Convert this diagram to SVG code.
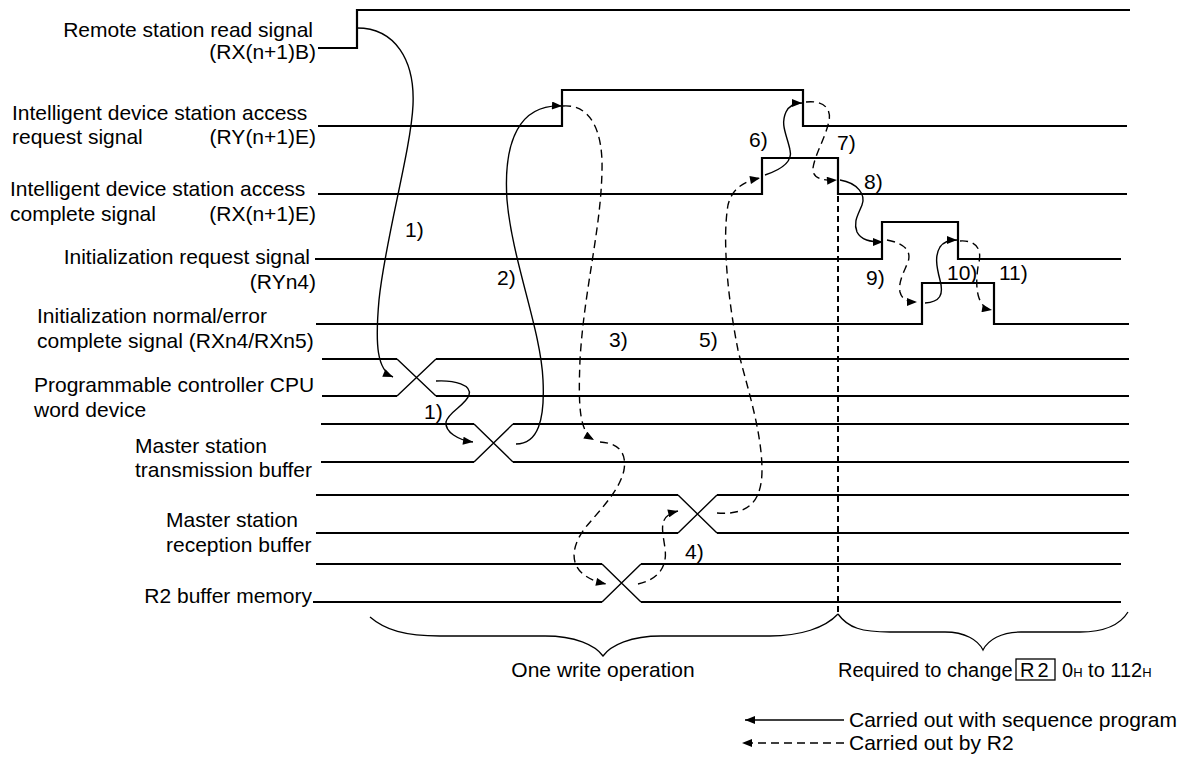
<svg xmlns="http://www.w3.org/2000/svg" width="1189" height="758" viewBox="0 0 1189 758">
<style>
text{font-family:"Liberation Sans",Arial,sans-serif;font-size:21px;fill:#000}
text.s20{font-size:20px}
.sig{fill:none;stroke:#000;stroke-width:2.2}
.diag{fill:none;stroke:#000;stroke-width:1.4}
.c{fill:none;stroke:#000;stroke-width:1.4}
.d{fill:none;stroke:#000;stroke-width:1.4;stroke-dasharray:8,5}
.brace{fill:none;stroke:#000;stroke-width:1.3}
.end{text-anchor:end}
</style>
<defs>
<marker id="ah" viewBox="0 0 10 8" refX="10" refY="4" markerWidth="11" markerHeight="8" markerUnits="userSpaceOnUse" orient="auto">
<path d="M0,0 L10,4 L0,8 z" fill="#000" stroke="none"/>
</marker>
</defs>
<rect width="1189" height="758" fill="#fff"/>

<g id="sig-remote-read">
<text class="end" x="313" y="37">Remote station read signal</text>
<text class="end" x="316" y="59">(RX(n+1)B)</text>
<path class="sig" d="M318,48 H357 V10 H1130"/>
</g>
<g id="sig-access-request">
<text x="12" y="120">Intelligent device station access</text>
<text x="12" y="144">request signal</text>
<text class="end" x="316" y="144">(RY(n+1)E)</text>
<path class="sig" d="M318,126 H562 V90 H803 V126 H1127"/>
</g>
<g id="sig-access-complete">
<text x="10" y="196">Intelligent device station access</text>
<text x="10" y="221">complete signal</text>
<text class="end" x="316" y="221">(RX(n+1)E)</text>
<path class="sig" d="M318,194 H762 V158 H838 V194 H1127"/>
</g>
<g id="sig-init-request">
<text class="end" x="310" y="264">Initialization request signal</text>
<text class="end" x="316" y="289">(RYn4)</text>
<path class="sig" d="M315,259 H882 V222 H958 V259 H1121"/>
</g>
<g id="sig-init-complete">
<text x="37" y="323">Initialization normal/error</text>
<text x="37" y="348">complete signal (RXn4/RXn5)</text>
<path class="sig" d="M316,324 H922 V283 H994 V324 H1129"/>
</g>
<g id="bus-cpu-word">
<text x="34" y="392">Programmable controller CPU</text>
<text x="34" y="417">word device</text>
<path class="sig" d="M322,359 H397 M436,359 H1129 M322,396 H397 M436,396 H1129"/>
<path class="diag" d="M397,359 L436,396 M397,396 L436,359"/>
</g>
<g id="bus-master-tx">
<text x="135" y="453">Master station</text>
<text x="135" y="477">transmission buffer</text>
<path class="sig" d="M321,424 H474 M513,424 H1129 M321,462 H474 M513,462 H1129"/>
<path class="diag" d="M474,424 L513,462 M474,462 L513,424"/>
</g>
<g id="bus-master-rx">
<text x="166" y="527">Master station</text>
<text x="166" y="552">reception buffer</text>
<path class="sig" d="M316,495 H678 M717,495 H1129 M316,533 H678 M717,533 H1129"/>
<path class="diag" d="M678,495 L717,533 M678,533 L717,495"/>
</g>
<g id="bus-r2-buffer">
<text class="end" x="312" y="603">R2 buffer memory</text>
<path class="sig" d="M316,564 H602 M641,564 H1121 M313,602 H602 M641,602 H1121"/>
<path class="diag" d="M602,564 L641,602 M602,602 L641,564"/>
</g>

<g id="connectors">
<path class="c" marker-end="url(#ah)" d="M357,28 C395,28 415,60 413,105 C411,150 385,240 379,300 C375,345 377,370 393,377"/>
<path class="c" marker-end="url(#ah)" d="M436,381 C455,380 472,385 469,395 C466,405 448,412 446,422 C445,432 458,440 473,442"/>
<path class="c" marker-end="url(#ah)" d="M516,444 C538,444 545,420 543,380 C541,330 512,260 507,200 C503,140 520,104 562,106"/>
<path class="d" marker-end="url(#ah)" d="M563,106 C590,104 603,130 602,170 C601,230 584,290 580,360 C578,410 580,432 594,440"/>
<path class="d" marker-end="url(#ah)" d="M600,442 C618,443 627,452 624,470 C620,490 600,510 585,528 C570,548 565,575 606,584"/>
<path class="d" marker-end="url(#ah)" d="M638,584 C655,580 668,570 665,548 C662,528 658,516 678,511"/>
<path class="d" marker-end="url(#ah)" d="M717,513 C745,515 762,505 762,470 C762,430 745,380 738,350 C728,300 722,240 728,205 C732,188 745,181 760,178"/>
<path class="c" marker-end="url(#ah)" d="M765,175 C780,170 793,162 790,150 C787,135 780,125 786,112 C789,106 795,103 802,103"/>
<path class="d" marker-end="url(#ah)" d="M806,102 C825,100 833,110 828,125 C824,140 815,155 813,168 C812,178 822,181 837,180"/>
<path class="c" marker-end="url(#ah)" d="M840,180 C858,183 866,195 862,205 C858,215 853,222 857,232 C861,240 870,242 883,242"/>
<path class="d" marker-end="url(#ah)" d="M887,240 C903,243 912,250 908,262 C904,272 898,282 900,292 C902,300 908,302 917,302"/>
<path class="c" marker-end="url(#ah)" d="M925,303 C940,302 944,295 940,280 C936,265 935,255 940,247 C944,241 950,240 957,240"/>
<path class="d" marker-end="url(#ah)" d="M960,241 C975,240 982,248 979,262 C976,275 976,290 979,298 C982,306 986,309 992,310"/>
<path fill="none" stroke="#000" stroke-width="2" stroke-dasharray="6,4" d="M838,196 V614"/>
</g>

<g id="step-labels">
<text x="405" y="237">1)</text>
<text x="424" y="419">1)</text>
<text x="497" y="285">2)</text>
<text x="609" y="347">3)</text>
<text x="685" y="559">4)</text>
<text x="699" y="347">5)</text>
<text x="749" y="147">6)</text>
<text x="837" y="150">7)</text>
<text x="864" y="189">8)</text>
<text x="866" y="285">9)</text>
<text x="947" y="280">10)</text>
<text x="999" y="280">11)</text>
</g>

<g id="brace-write">
<path class="brace" d="M370,617 C385,630 405,636 440,636 L545,636 C575,636 595,645 603,656 C611,645 631,636 661,636 L770,636 C800,636 825,628 838,614"/>
<text x="603" y="677" text-anchor="middle">One write operation</text>
</g>
<g id="brace-required">
<path class="brace" d="M838,614 C848,628 862,632 890,632 L945,632 C965,632 978,640 983,650 C988,640 1001,632 1021,632 L1080,632 C1105,632 1120,625 1128,612"/>
<text class="s20" x="838" y="677">Required to change</text>
<rect x="1016" y="659" width="39" height="21" fill="none" stroke="#000" stroke-width="1.3"/>
<text class="s20" x="1020" y="677" letter-spacing="3">R2</text>
<text class="s20" x="1062" y="677">0<tspan font-size="13">H</tspan> to 112<tspan font-size="13">H</tspan></text>
</g>

<g id="legend">
<path class="c" stroke-width="2" marker-end="url(#ah)" d="M844,720 H745"/>
<text x="849" y="727">Carried out with sequence program</text>
<path class="d" stroke-width="2" stroke-dasharray="6,4" marker-end="url(#ah)" d="M844,743 H742"/>
<text x="849" y="750">Carried out by R2</text>
</g>
</svg>
